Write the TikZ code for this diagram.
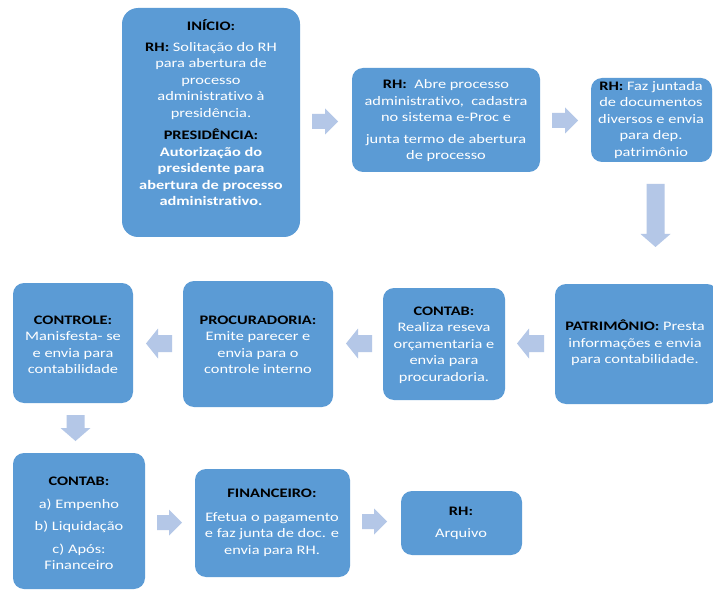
\documentclass[tikz,border=0pt]{standalone}
\usepackage{fontspec}
\setmainfont{Carlito}[FakeStretch=1.26, Ligatures=NoCommon]
\definecolor{boxblue}{HTML}{5B9BD5}
\definecolor{arrowblue}{HTML}{B4C7E7}
\newcommand\hdr[1]{{\color{black}\bfseries #1}}
\newcommand\rarr[3]{\fill[arr] (#1,#3-7.5) -- (#2-13,#3-7.5) -- (#2-13,#3-13) -- (#2,#3) -- (#2-13,#3+13) -- (#2-13,#3+7.5) -- (#1,#3+7.5) -- cycle;}
\newcommand\larr[3]{\fill[arr] (#2,#3-8.5) -- (#1+12,#3-8.5) -- (#1+12,#3-15) -- (#1,#3) -- (#1+12,#3+15) -- (#1+12,#3+8.5) -- (#2,#3+8.5) -- cycle;}
\newcommand\darr[3]{\fill[arr] (#1-9,#2) -- (#1+9,#2) -- (#1+9,#3-13) -- (#1+15,#3-13) -- (#1,#3) -- (#1-15,#3-13) -- (#1-9,#3-13) -- cycle;}
\begin{document}
\begin{tikzpicture}[x=1pt,y=-1pt,
  box/.style={fill=boxblue, rounded corners=11pt, inner sep=0pt, outer sep=0pt},
  txt/.style={align=center, text=white, font=\fontsize{13}{16.5}\selectfont, inner sep=0pt},
  arr/.style={fill=arrowblue}]
\useasboundingbox (0,0) rectangle (713,591);
\fill[white] (0,0) rectangle (713,591);
% boxes
\node[box, rounded corners=16pt, minimum width=178pt, minimum height=229pt] (b1) at (211,122.5) {};
\node[box, minimum width=188pt, minimum height=104pt] (b2) at (446,120) {};
\node[box, minimum width=121pt, minimum height=84pt] (b3) at (651.5,120) {};
\node[box, minimum width=163pt, minimum height=120pt] (b4) at (636.5,344) {};
\node[box, minimum width=122pt, minimum height=112pt] (b5) at (444,344) {};
\node[box, minimum width=150pt, minimum height=126pt] (b6) at (258,344) {};
\node[box, minimum width=120pt, minimum height=120pt] (b7) at (73,343) {};
\node[box, minimum width=132pt, minimum height=136pt] (b8) at (79,521) {};
\node[box, minimum width=155pt, minimum height=108pt] (b9) at (272.5,523) {};
\node[box, minimum width=121pt, minimum height=64pt] (b10) at (461.5,523) {};
% texts
\node[txt] (t1) at (211,113) {\hdr{INÍCIO:}\\[4pt]
  \hdr{RH:} Solitação do RH\\para abertura de\\processo\\administrativo à\\presidência.\\[6pt]
  \hdr{PRESIDÊNCIA:}\\\textbf{Autorização do}\\\textbf{presidente para}\\\textbf{abertura de processo}\\\textbf{administrativo.}};
\node[txt] (t2) at (446,121) {\hdr{RH:}\ \ Abre processo\\administrativo,\ \ cadastra\\no sistema e-Proc e\\[5pt]junta termo de abertura\\de processo};
\node[txt] (t3) at (651,120) {\hdr{RH:} Faz juntada\\de documentos\\diversos e envia\\para dep.\\patrimônio};
\node[txt] (t4) at (635,343) {\hdr{PATRIMÔNIO:} Presta\\informações e envia\\para contabilidade.};
\node[txt] (t5) at (444,345) {\hdr{CONTAB:}\\Realiza reseva\\orçamentaria e\\envia para\\procuradoria.};
\node[txt] (t6) at (258,345) {\hdr{PROCURADORIA:}\\Emite parecer e\\envia para o\\controle interno};
\node[txt] (t7) at (73,345) {\hdr{CONTROLE:}\\Manisfesta- se\\e envia para\\contabilidade};
\node[txt] (t8) at (79,523.5) {\hdr{CONTAB:}\\[6pt]a) Empenho\\[6pt]b) Liquidação\\[6pt]c) Após:\\Financeiro};
\node[txt] (t9) at (272,523) {\hdr{FINANCEIRO:}\\[7pt]Efetua o pagamento\\e faz junta de doc. e\\envia para RH.};
\node[txt] (t10) at (461,523.5) {\hdr{RH:}\\[6pt]Arquivo};
% block arrows
\rarr{312}{338}{121.5}
\rarr{552}{578}{120.5}
\darr{655.5}{184}{247}
\larr{517}{544}{343.5}
\larr{346}{372}{343.5}
\larr{146}{172}{343.5}
\darr{75.5}{415}{441}
\rarr{157}{182}{522.5}
\rarr{362}{387}{521.5}
\end{tikzpicture}
\end{document}
